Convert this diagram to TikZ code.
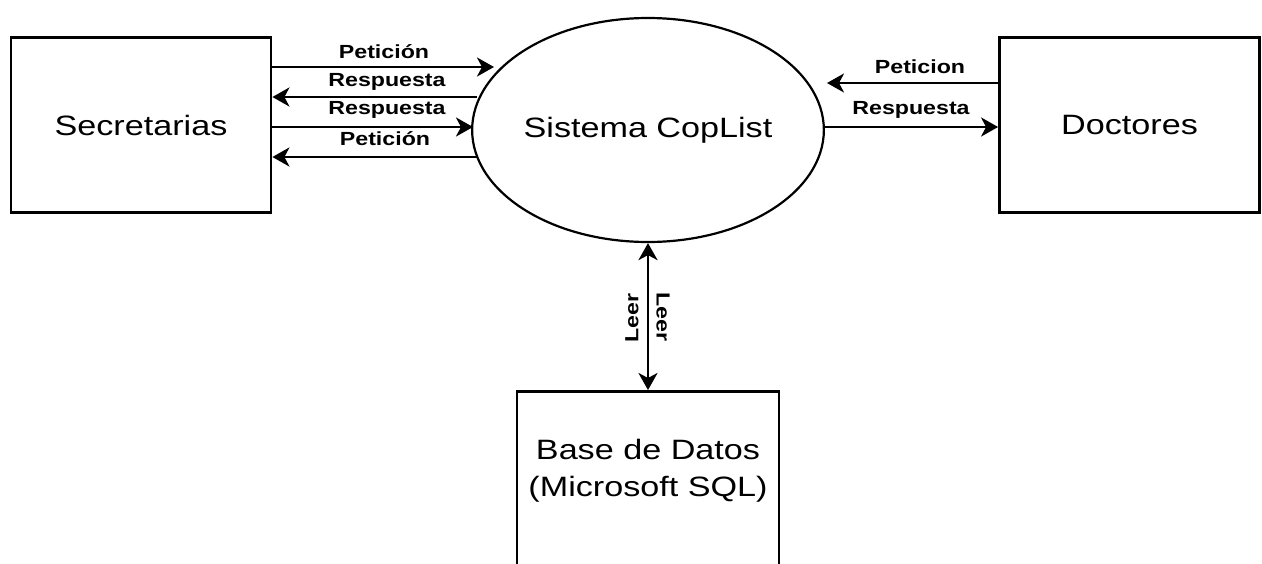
\documentclass[tikz,border=0pt]{standalone}
\usepackage{fontspec}
\setmainfont[FakeStretch=1.22]{Liberation Sans}
\usetikzlibrary{shapes.geometric,arrows.meta}
\begin{document}
\begin{tikzpicture}[x=1pt,y=-1pt,
  box/.style={draw, line width=2.8pt, minimum width=260pt, minimum height=175pt, inner sep=0pt, font=\fontsize{28}{37}\selectfont},
  proc/.style={draw, ellipse, line width=2.2pt, minimum width=350pt, minimum height=224pt, inner sep=0pt, font=\fontsize{28}{37}\selectfont},
  tip/.style={Stealth[length=17pt,width=19pt,inset=5pt]},
  arr/.style={line width=2.8pt, -{Stealth[length=17pt,width=19pt,inset=5pt]}},
  darr/.style={line width=2.8pt, {Stealth[length=17pt,width=19pt,inset=5pt]}-{Stealth[length=17pt,width=19pt,inset=5pt]}},
  lbl/.style={inner sep=0pt, font=\fontsize{19}{22}\selectfont\bfseries}]
\useasboundingbox (0,0) rectangle (1262,563);

\node[box] (sec) at (141,125) {Secretarias};
\node[box] (doc) at (1129.5,125) {Doctores};
\node[proc] (ell) at (648,130) {Sistema CopList};
\node[box, minimum width=262pt, minimum height=200pt, anchor=north] (db) at (648,390) {};
\node[inner sep=0pt, align=center, font=\fontsize{28}{37}\selectfont] (dbtext) at (648,471) {Base de Datos\\(Microsoft SQL)};

% left arrows
\coordinate (e1) at (494,67);
\coordinate (e2) at (477,97);
\coordinate (e3) at (473,127);
\coordinate (e4) at (477,157);
\draw[arr] (sec.east |- e1) -- (e1);
\draw[arr] (e2) -- (sec.east |- e2);
\draw[arr] (sec.east |- e3) -- (e3);
\draw[arr] (e4) -- (sec.east |- e4);
\node[lbl] (l1) at (384,52) {Petición};
\node[lbl] (l2) at (387,82) {Respuesta};
\node[lbl] (l3) at (387,110) {Respuesta};
\node[lbl] (l4) at (385,139) {Petición};

% right arrows
\coordinate (e5) at (827,83);
\coordinate (e6) at (823,127);
\draw[arr] (doc.west |- e5) -- (e5);
\draw[arr] (e6) -- (doc.west |- e6);
\node[lbl] (l5) at (920,67) {Peticion};
\node[lbl] (l6) at (911,110) {Respuesta};

% vertical
\draw[darr] (ell.south) -- (db.north);
\node[lbl, rotate=90] (l7) at (632,318) {Leer};
\node[lbl, rotate=-90] (l8) at (663,317) {Leer};
\end{tikzpicture}
\end{document}
